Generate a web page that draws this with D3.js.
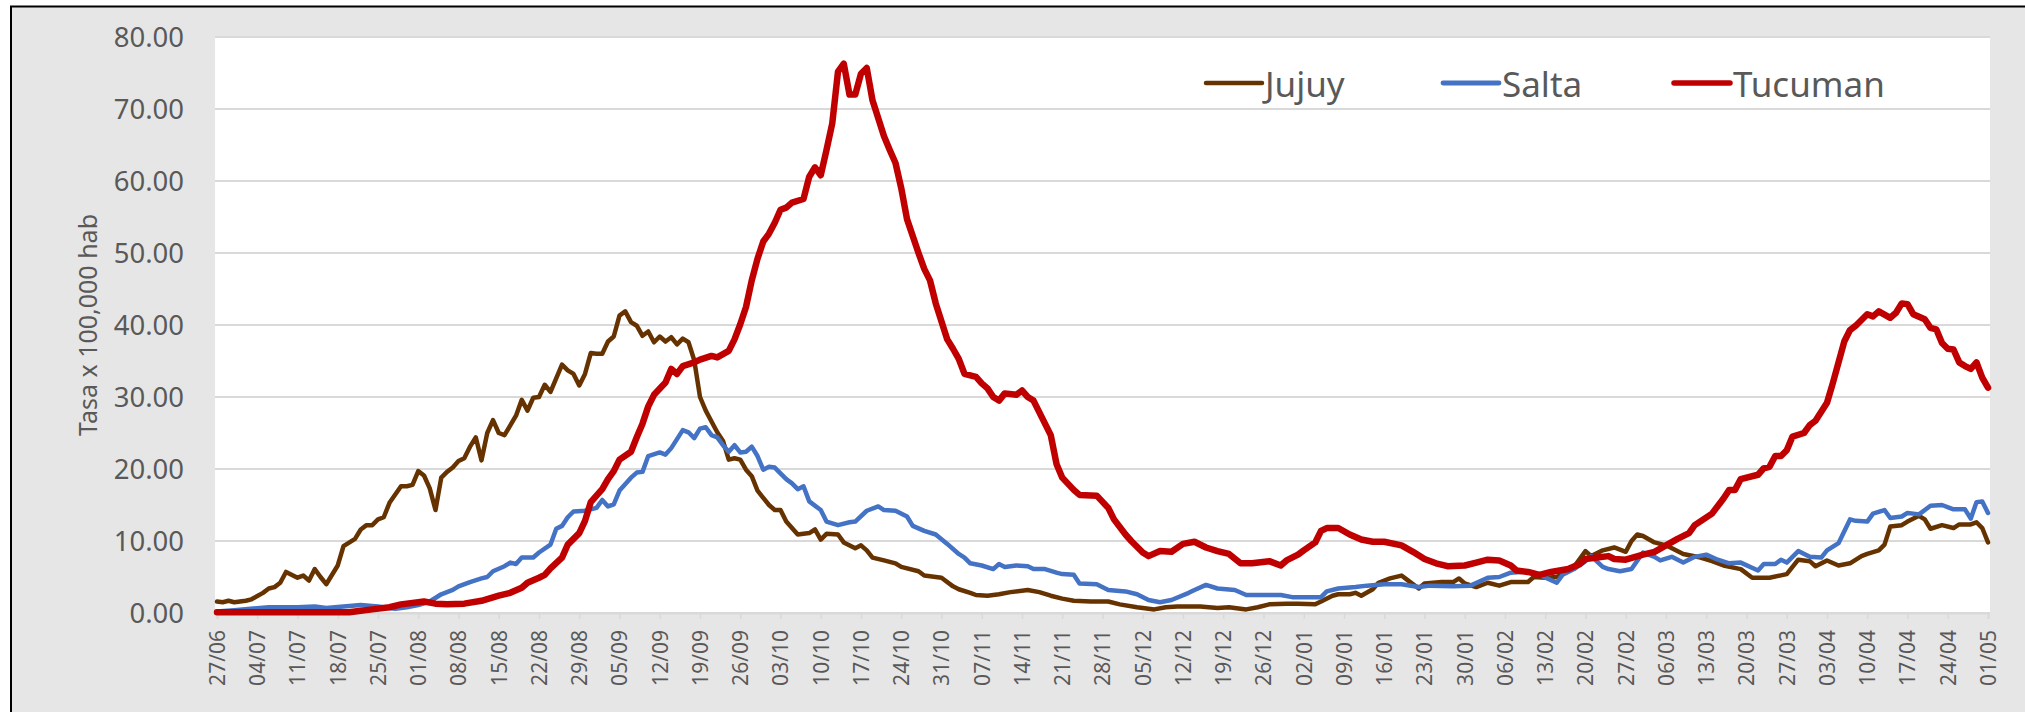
<!DOCTYPE html>
<html><head><meta charset="utf-8">
<script src="https://cdn.jsdelivr.net/npm/d3@7"></script>
<style>
html,body{margin:0;padding:0;background:#fff;}
svg{display:block;}
</style></head>
<body>
<svg id="chart" width="2025" height="712"></svg>
<script>
// ---- data (day index from 27/06, value) ----
const tickLabels = ["27/06","04/07","11/07","18/07","25/07","01/08","08/08","15/08","22/08","29/08","05/09","12/09","19/09","26/09","03/10","10/10","17/10","24/10","31/10","07/11","14/11","21/11","28/11","05/12","12/12","19/12","26/12","02/01","09/01","16/01","23/01","30/01","06/02","13/02","20/02","27/02","06/03","13/03","20/03","27/03","03/04","10/04","17/04","24/04","01/05"];
const seriesNames = ["Jujuy","Salta","Tucuman"];
const seriesColors = ["#663300","#4472c4","#c00000"];

const jujuy = [[0,1.6],[1,1.5],[2,1.7],[3,1.5],[5,1.7],[6,1.9],[8,2.8],[9,3.4],[10,3.6],[11,4.2],[12,5.7],[14,4.9],[15,5.2],[16,4.5],[17,6.1],[18,5.0],[19,4.0],[21,6.6],[22,9.3],[24,10.3],[25,11.6],[26,12.2],[27,12.2],[28,13.0],[29,13.3],[30,15.3],[32,17.6],[33,17.6],[34,17.8],[35,19.7],[36,19.1],[37,17.3],[38,14.3],[39,18.8],[40,19.6],[41,20.2],[42,21.1],[43,21.5],[44,23.1],[45,24.4],[46,21.2],[47,25.0],[48,26.8],[49,25.0],[50,24.7],[52,27.4],[53,29.6],[54,28.1],[55,29.9],[56,30.0],[57,31.7],[58,30.7],[60,34.5],[61,33.7],[62,33.2],[63,31.6],[64,33.2],[65,36.1],[66,36.0],[67,36.0],[68,37.7],[69,38.4],[70,41.3],[71,41.9],[72,40.4],[73,39.9],[74,38.5],[75,39.1],[76,37.6],[77,38.4],[78,37.7],[79,38.3],[80,37.3],[81,38.1],[82,37.6],[83,35.1],[84,30.0],[85,28.1],[86,26.6],[87,25.1],[88,23.9],[89,21.3],[90,21.5],[91,21.3],[92,19.9],[93,19.0],[94,17.0],[95,16.0],[96,15.0],[97,14.3],[98,14.3],[99,12.7],[101,10.9],[103,11.1],[104,11.6],[105,10.2],[106,11.0],[108,10.9],[109,9.8],[111,9.0],[112,9.4],[113,8.7],[114,7.7],[116,7.3],[118,6.9],[119,6.4],[122,5.8],[123,5.2],[126,4.9],[128,3.7],[129,3.3],[131,2.8],[132,2.5],[134,2.4],[136,2.6],[138,2.9],[141,3.2],[143,2.9],[145,2.4],[147,2.0],[149,1.7],[152,1.6],[155,1.6],[157,1.2],[160,0.8],[163,0.5],[165,0.8],[167,0.9],[171,0.9],[174,0.7],[176,0.8],[179,0.5],[181,0.8],[183,1.2],[186,1.3],[188,1.3],[191,1.2],[192,1.6],[194,2.4],[195,2.6],[197,2.6],[198,2.8],[199,2.4],[201,3.3],[202,4.2],[204,4.8],[206,5.2],[207,4.6],[209,3.4],[210,4.1],[213,4.3],[215,4.3],[216,4.8],[217,4.1],[219,3.6],[221,4.2],[223,3.8],[225,4.3],[228,4.3],[229,5.0],[231,4.9],[233,5.0],[235,5.8],[236,6.4],[238,8.6],[239,7.9],[241,8.7],[243,9.1],[245,8.5],[246,10.0],[247,10.9],[248,10.7],[250,9.8],[252,9.4],[255,8.2],[258,7.7],[260,7.2],[262,6.6],[265,6.1],[267,4.9],[270,4.9],[273,5.4],[275,7.4],[277,7.2],[278,6.5],[280,7.3],[282,6.6],[284,6.9],[286,7.9],[287,8.2],[289,8.7],[290,9.5],[291,12.0],[293,12.2],[294,12.7],[296,13.5],[297,13.0],[298,11.7],[300,12.2],[302,11.8],[303,12.3],[305,12.3],[306,12.6],[307,11.8],[308,9.8]];

const salta = [[0,0.2],[3,0.4],[9,0.8],[14,0.8],[17,0.9],[19,0.7],[22,0.9],[25,1.1],[28,0.9],[31,0.6],[33,0.8],[35,1.1],[37,1.6],[39,2.6],[41,3.2],[42,3.7],[44,4.3],[46,4.8],[47,5.0],[48,5.8],[50,6.5],[51,7.0],[52,6.8],[53,7.7],[55,7.7],[56,8.4],[58,9.5],[59,11.7],[60,12.1],[61,13.3],[62,14.1],[64,14.2],[66,14.6],[67,15.7],[68,14.8],[69,15.1],[70,17.0],[72,18.8],[73,19.5],[74,19.6],[75,21.8],[77,22.3],[78,22.0],[79,22.9],[81,25.4],[82,25.1],[83,24.3],[84,25.6],[85,25.8],[86,24.7],[87,24.4],[88,23.3],[89,22.4],[90,23.3],[91,22.3],[92,22.4],[93,23.1],[94,21.8],[95,19.9],[96,20.3],[97,20.2],[98,19.4],[99,18.6],[100,18.0],[101,17.2],[102,17.6],[103,15.5],[105,14.3],[106,12.7],[108,12.2],[110,12.6],[111,12.7],[113,14.2],[115,14.8],[116,14.3],[118,14.2],[120,13.4],[121,12.1],[123,11.4],[125,10.9],[127,9.6],[129,8.2],[130,7.7],[131,6.9],[133,6.6],[135,6.1],[136,6.8],[137,6.4],[139,6.6],[141,6.5],[142,6.1],[144,6.1],[146,5.6],[147,5.4],[149,5.3],[150,4.1],[153,4.0],[155,3.2],[158,3.0],[160,2.6],[162,1.8],[164,1.5],[166,1.8],[169,2.8],[170,3.2],[172,3.9],[174,3.4],[177,3.2],[179,2.5],[183,2.5],[185,2.5],[187,2.2],[190,2.2],[192,2.2],[193,3.0],[195,3.4],[198,3.6],[200,3.8],[203,4.0],[206,4.0],[209,3.6],[211,3.8],[215,3.7],[218,3.8],[221,4.9],[223,5.0],[225,5.6],[228,5.8],[230,5.3],[233,4.2],[234,5.3],[236,6.1],[238,7.2],[239,7.9],[241,6.4],[242,6.1],[244,5.8],[246,6.1],[248,8.4],[250,7.8],[251,7.3],[253,7.8],[255,7.0],[257,7.8],[259,8.1],[261,7.4],[263,6.9],[265,7.0],[268,5.9],[269,6.8],[271,6.8],[272,7.4],[273,7.0],[275,8.6],[277,7.8],[279,7.7],[280,8.7],[282,9.7],[284,13.0],[285,12.8],[287,12.7],[288,13.8],[290,14.3],[291,13.2],[293,13.4],[294,13.9],[295,13.8],[296,13.7],[298,14.9],[300,15.0],[302,14.4],[304,14.4],[305,13.1],[306,15.4],[307,15.5],[308,13.9]];

const tucuman = [[0,0.1],[10,0.1],[20,0.1],[23,0.1],[24,0.2],[27,0.5],[30,0.8],[32,1.2],[36,1.6],[38,1.3],[40,1.2],[43,1.3],[46,1.7],[49,2.4],[51,2.8],[53,3.5],[54,4.2],[56,4.9],[57,5.3],[58,6.2],[60,7.7],[61,9.5],[63,11.1],[64,12.8],[65,15.4],[67,17.2],[68,18.6],[69,19.7],[70,21.3],[72,22.4],[73,24.4],[74,26.3],[75,28.7],[76,30.3],[78,32.0],[79,33.9],[80,33.2],[81,34.3],[83,34.8],[84,35.2],[86,35.7],[87,35.5],[89,36.4],[90,38.0],[91,40.1],[92,42.5],[93,46.2],[94,49.2],[95,51.6],[96,52.7],[97,54.2],[98,56.0],[99,56.3],[100,57.0],[102,57.5],[103,60.6],[104,61.9],[105,60.8],[106,64.3],[107,68.0],[108,75.2],[109,76.3],[110,72.0],[111,72.0],[112,74.9],[113,75.7],[114,71.2],[116,66.2],[117,64.3],[118,62.5],[119,59.0],[120,54.7],[122,50.0],[123,47.8],[124,46.2],[125,43.0],[127,38.0],[128,36.7],[129,35.3],[130,33.2],[132,32.8],[133,31.9],[134,31.2],[135,30.0],[136,29.5],[137,30.5],[139,30.3],[140,30.9],[141,30.0],[142,29.5],[143,27.9],[144,26.3],[145,24.7],[146,20.7],[147,18.8],[149,17.1],[150,16.4],[153,16.3],[155,14.6],[156,13.0],[158,10.9],[159,10.0],[161,8.4],[162,7.9],[164,8.6],[166,8.5],[168,9.6],[170,9.9],[172,9.1],[174,8.6],[176,8.2],[178,6.9],[180,6.9],[183,7.2],[185,6.6],[186,7.3],[188,8.1],[189,8.7],[191,9.8],[192,11.4],[193,11.8],[195,11.8],[197,10.9],[199,10.2],[201,9.9],[203,9.9],[206,9.4],[208,8.5],[210,7.5],[212,6.9],[214,6.5],[217,6.6],[219,7.0],[221,7.4],[223,7.3],[225,6.6],[226,5.9],[228,5.7],[230,5.3],[232,5.7],[235,6.1],[237,6.8],[238,7.5],[240,7.7],[242,7.9],[243,7.5],[245,7.4],[248,8.1],[250,8.5],[252,9.4],[254,10.3],[256,11.1],[257,12.2],[260,13.8],[262,15.9],[263,17.1],[264,17.1],[265,18.6],[268,19.2],[269,20.1],[270,20.3],[271,21.8],[272,21.8],[273,22.6],[274,24.5],[276,25.0],[277,26.1],[278,26.7],[280,29.2],[281,31.9],[283,37.7],[284,39.3],[285,39.9],[287,41.5],[288,41.2],[289,41.9],[291,41.0],[292,41.7],[293,43.0],[294,42.9],[295,41.5],[297,40.8],[298,39.6],[299,39.4],[300,37.5],[301,36.7],[302,36.6],[303,34.8],[304,34.3],[305,33.9],[306,34.8],[307,32.7],[308,31.3]];

const yTicks = [0,10,20,30,40,50,60,70,80];
const yTitle = "Tasa x 100,000 hab";

// ---- layout ----
const W = 2025, H = 712;
const plot = {left:217, right:1988, top:37, bottom:613};
const FONT = "'Noto Sans', 'Open Sans', sans-serif";
const TXT = "#595959";

const svg = d3.select("#chart");
svg.append("rect").attr("x",11).attr("y",6.5).attr("width",W+20).attr("height",H+20)
  .attr("fill","#e7e6e6").attr("stroke","#000").attr("stroke-width",2);
svg.append("rect").attr("x",plot.left-2).attr("y",plot.top).attr("width",1990-(plot.left-2)).attr("height",plot.bottom-plot.top)
  .attr("fill","#fff");

const nDays = 308;
const x = d3.scaleLinear().domain([0,nDays]).range([plot.left, plot.right]);
const y = d3.scaleLinear().domain([0,80]).range([plot.bottom, plot.top]);

// gridlines
svg.append("g").selectAll("line").data(yTicks).join("line")
  .attr("x1",plot.left-2).attr("x2",1990)
  .attr("y1",d=>y(d)).attr("y2",d=>y(d))
  .attr("stroke","#d9d9d9").attr("stroke-width",2);

// y labels
const yAxis = d3.axisLeft(y).tickValues(yTicks).tickFormat(d3.format(".2f")).tickSize(0).tickPadding(0);
const gy = svg.append("g").attr("transform",`translate(184,0)`).call(yAxis);
gy.select(".domain").remove();
gy.selectAll("text").attr("font-family",FONT).attr("font-size","27.5px").attr("fill",TXT).attr("dy","0.35em");

// y title
svg.append("text").attr("transform","translate(88,325) rotate(-90)")
  .attr("text-anchor","middle").attr("dy","0.35em")
  .attr("font-family",FONT).attr("font-size","25px").attr("fill",TXT).text(yTitle);

// x axis
const tickVals = tickLabels.map((d,i)=>i*7);
const xAxis = d3.axisBottom(x).tickValues(tickVals).tickFormat((d,i)=>tickLabels[i]).tickSize(6).tickPadding(0);
const gx = svg.append("g").attr("transform",`translate(0,${plot.bottom})`).call(xAxis);
gx.select(".domain").attr("stroke","#d9d9d9").attr("stroke-width",2);
gx.selectAll(".tick line").attr("stroke","#d9d9d9").attr("stroke-width",1.5);
gx.selectAll("text")
  .attr("font-family",FONT).attr("font-size","21px").attr("fill",TXT)
  .attr("text-anchor","end").attr("transform","translate(0,17) rotate(-90)")
  .attr("x",0).attr("y",0).attr("dy","0.35em");

// lines
const seriesData = [jujuy, salta, tucuman];
const widths = [4.5, 4.5, 6.5];
const line = d3.line().x(d=>x(d[0])).y(d=>y(d[1]));
const gl = svg.append("g");
seriesData.forEach((s,i)=>{
  gl.append("path").datum(s).attr("d",line).attr("fill","none")
    .attr("stroke",seriesColors[i]).attr("stroke-width",widths[i])
    .attr("stroke-linejoin","round").attr("stroke-linecap","round");
});

// legend
const legX = [1206, 1443, 1674];
const legW = [4.5, 4.8, 5.5];
const lg = svg.append("g");
seriesNames.forEach((n,i)=>{
  lg.append("line").attr("x1",legX[i]).attr("x2",legX[i]+56).attr("y1",83).attr("y2",83)
    .attr("stroke",seriesColors[i]).attr("stroke-width",legW[i]).attr("stroke-linecap","round");
  lg.append("text").attr("x",legX[i]+59).attr("y",97)
    .attr("font-family",FONT).attr("font-size","35px").attr("fill",TXT).text(n);
});
</script>
</body></html>
